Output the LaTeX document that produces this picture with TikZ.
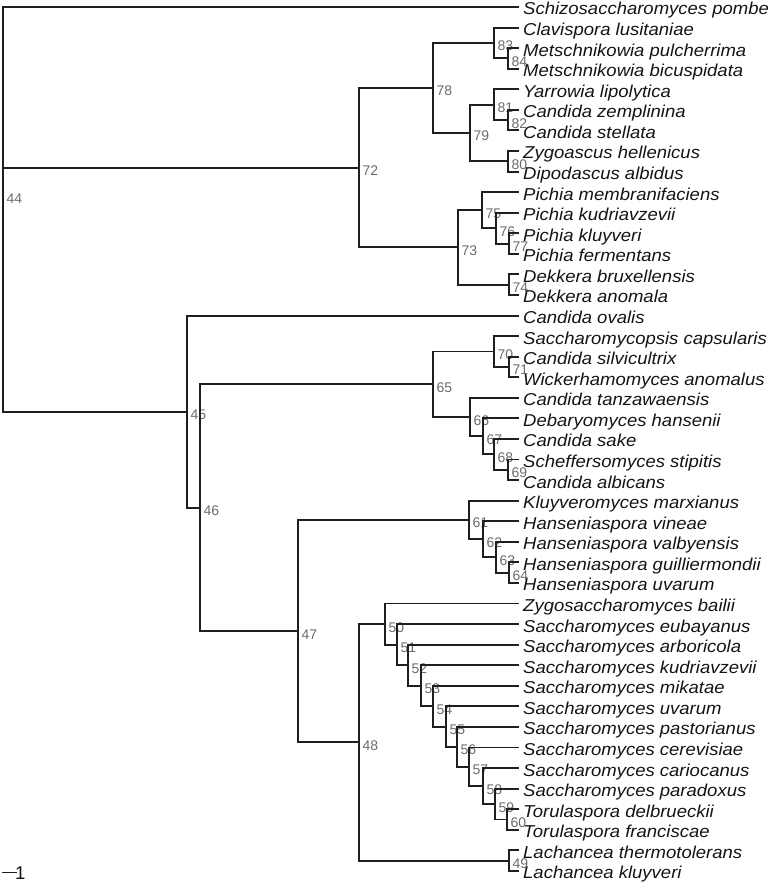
\documentclass[tikz,border=0pt]{standalone}
\usepackage{fontspec}
\setsansfont{Liberation Sans}
\begin{document}
\begin{tikzpicture}[x=1pt,y=-1pt,
  branch/.style={line width=1.9pt, draw=black!88, line cap=rect, line join=miter},
  leaflabel/.style={anchor=base west, inner sep=0pt, font=\fontsize{18.5}{20}\selectfont\sffamily\itshape, text=black!92},
  nodelabel/.style={anchor=base west, inner sep=0pt, font=\fontsize{14}{16}\selectfont\sffamily, text=black!58},
  scalelabel/.style={anchor=base west, inner sep=0pt, font=\fontsize{18.5}{20}\selectfont\sffamily, text=black!92}]
\useasboundingbox (0,0) rectangle (774,882);
% leaves
\foreach \name [count=\i from 0] in {
Schizosaccharomyces pombe, Clavispora lusitaniae, Metschnikowia pulcherrima, Metschnikowia bicuspidata,
Yarrowia lipolytica, Candida zemplinina, Candida stellata, Zygoascus hellenicus, Dipodascus albidus,
Pichia membranifaciens, Pichia kudriavzevii, Pichia kluyveri, Pichia fermentans, Dekkera bruxellensis,
Dekkera anomala, Candida ovalis, Saccharomycopsis capsularis, Candida silvicultrix, Wickerhamomyces anomalus,
Candida tanzawaensis, Debaryomyces hansenii, Candida sake, Scheffersomyces stipitis, Candida albicans,
Kluyveromyces marxianus, Hanseniaspora vineae, Hanseniaspora valbyensis, Hanseniaspora guilliermondii,
Hanseniaspora uvarum, Zygosaccharomyces bailii, Saccharomyces eubayanus, Saccharomyces arboricola,
Saccharomyces kudriavzevii, Saccharomyces mikatae, Saccharomyces uvarum, Saccharomyces pastorianus,
Saccharomyces cerevisiae, Saccharomyces cariocanus, Saccharomyces paradoxus, Torulaspora delbrueckii,
Torulaspora franciscae, Lachancea thermotolerans, Lachancea kluyveri}{
  \coordinate (l\i) at (518,{7+20.57*\i});
  \node[leaflabel] (t\i) at (523,{15+20.57*\i}) {\scalebox{1}[0.93]{\name}};
}
% internal nodes: id / x / position in leaf units
\foreach \id/\x/\p in {
44/3/9.161, 72/359/7.8125, 78/433/3.9375, 83/494/1.75, 84/508/2.5, 79/470/6.125,
81/494/4.75, 82/508/5.5, 80/508/7.5, 73/458/11.6875, 75/482/9.875, 76/496/10.75,
77/509/11.5, 74/509/13.5, 45/187/19.671875, 46/200/24.34375, 65/433/18.34375,
70/494/16.75, 71/509/17.5, 66/470/19.9375, 67/483/20.875, 68/494/21.75, 69/508/22.5,
47/298/30.34375, 61/469/24.9375, 62/483/25.875, 63/496/26.75, 64/509/27.5,
48/359/35.75, 50/385/29.9995, 51/397/30.999, 52/408/31.998, 53/421/32.996,
54/433/33.992, 55/446/34.984, 56/457/35.969, 57/469/36.9375, 58/483/37.875,
59/495/38.75, 60/507/39.5, 49/509/41.5}{
  \coordinate (n\id) at (\x,{7+20.57*\p});
  \node[nodelabel] (lab\id) at ({\x+3.5},{15+20.57*\p}) {\id};
}
% branches
\foreach \a/\b in {
n44/l0, n44/n72, n44/n45,
n72/n78, n72/n73, n78/n83, n78/n79, n83/l1, n83/n84, n84/l2, n84/l3,
n79/n81, n79/n80, n81/l4, n81/n82, n82/l5, n82/l6, n80/l7, n80/l8,
n73/n75, n73/n74, n75/l9, n75/n76, n76/l10, n76/n77, n77/l11, n77/l12, n74/l13, n74/l14,
n45/l15, n45/n46, n46/n65, n46/n47,
n65/n70, n65/n66, n70/l16, n70/n71, n71/l17, n71/l18,
n66/l19, n66/n67, n67/l20, n67/n68, n68/l21, n68/n69, n69/l22, n69/l23,
n47/n61, n47/n48, n61/l24, n61/n62, n62/l25, n62/n63, n63/l26, n63/n64, n64/l27, n64/l28,
n48/n50, n48/n49, n50/l29, n50/n51, n51/l30, n51/n52, n52/l31, n52/n53, n53/l32, n53/n54,
n54/l33, n54/n55, n55/l34, n55/n56, n56/l35, n56/n57, n57/l36, n57/n58, n58/l37, n58/n59,
n59/l38, n59/n60, n60/l39, n60/l40, n49/l41, n49/l42}{
  \draw[branch] (\a) |- (\b);
}
% scale bar
\coordinate (sb1) at (2,872.5);
\coordinate (sb2) at (17,872.5);
\draw[branch, line cap=butt] (sb1) -- (sb2);
\node[scalelabel] (sbl) at (15,879.5) {1};
\end{tikzpicture}
\end{document}
